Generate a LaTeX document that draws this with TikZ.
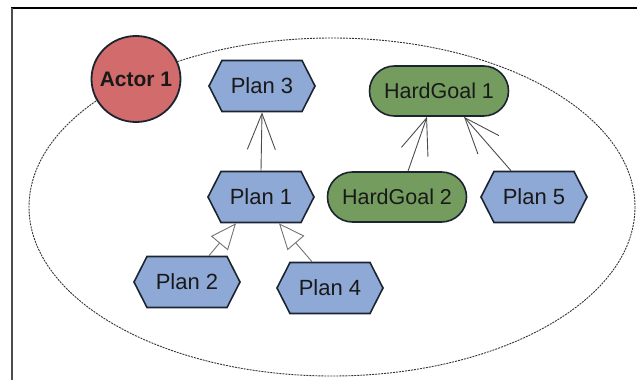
\documentclass[tikz,border=0pt]{standalone}
\usepackage{fontspec}
\setmainfont{Liberation Sans}
\usetikzlibrary{shapes.symbols,shapes.misc,shapes.geometric,arrows.meta}
\definecolor{planblue}{HTML}{8FA9D6}
\definecolor{goalgreen}{HTML}{739C5E}
\definecolor{actorred}{HTML}{D26B6B}
\definecolor{edge}{HTML}{1C2430}
\begin{document}
\begin{tikzpicture}[x=1pt,y=-1pt,
  every node/.style={font=\fontsize{22}{26}\selectfont, text=black!90},
  plan/.style={signal, signal to=west and east, signal pointer angle=126,
    draw=edge, line width=1.6pt, fill=planblue, minimum width=106pt,
    minimum height=51pt, inner sep=0pt},
  goal/.style={rounded rectangle, draw=edge, line width=1.6pt, fill=goalgreen,
    minimum width=139pt, minimum height=50pt, inner sep=0pt,
    font=\fontsize{21.5}{26}\selectfont},
  actor/.style={ellipse, draw=edge, line width=1.8pt, fill=actorred,
    minimum width=89pt, minimum height=86pt, inner xsep=-9pt, inner ysep=0pt,
    font=\fontsize{21}{26}\selectfont\bfseries},
  meansend/.style={draw=black!70, line width=0.9pt,
    -{Straight Barb[length=36pt, width=28pt, line width=0.9pt]}},
  decomp/.style={draw=black!55, line width=0.9pt,
    -{Triangle[open, length=26pt, width=22pt, line width=0.9pt, fill=white]}}
]
\useasboundingbox (0,0) rectangle (637,380);
% frame
\draw[black, line width=1.5pt] (11,8) -- (637,8);
\draw[black!70, line width=2pt] (12,8) -- (12,380);
% actor boundary
\draw[black!80, line width=0.9pt, dash pattern=on 2pt off 1pt] (332,207) ellipse [x radius=303, y radius=169];
% nodes
\node[actor] (a1) at (136,79) {Actor 1};
\node[plan] (p3) at (262,86) {Plan 3};
\node[plan] (p1) at (261,197) {Plan 1};
\node[plan] (p2) at (187,282) {Plan 2};
\node[plan] (p4) at (330,288) {Plan 4};
\node[goal] (g1) at (439,91) {HardGoal 1};
\node[goal] (g2) at (397,197) {HardGoal 2};
\node[plan] (p5) at (534,197) {Plan 5};
% links
\draw[meansend] (p1.north) -- (p3.south);
\draw[decomp] ([xshift=22pt]p2.north) -- ([xshift=-25pt]p1.south);
\draw[decomp] ([xshift=-18pt]p4.north) -- ([xshift=18pt]p1.south);
\draw[meansend] ([xshift=11pt]g2.north) -- ([xshift=-12pt]g1.south);
\draw[meansend] ([xshift=-23pt]p5.north) -- ([xshift=25pt]g1.south);
\end{tikzpicture}
\end{document}
